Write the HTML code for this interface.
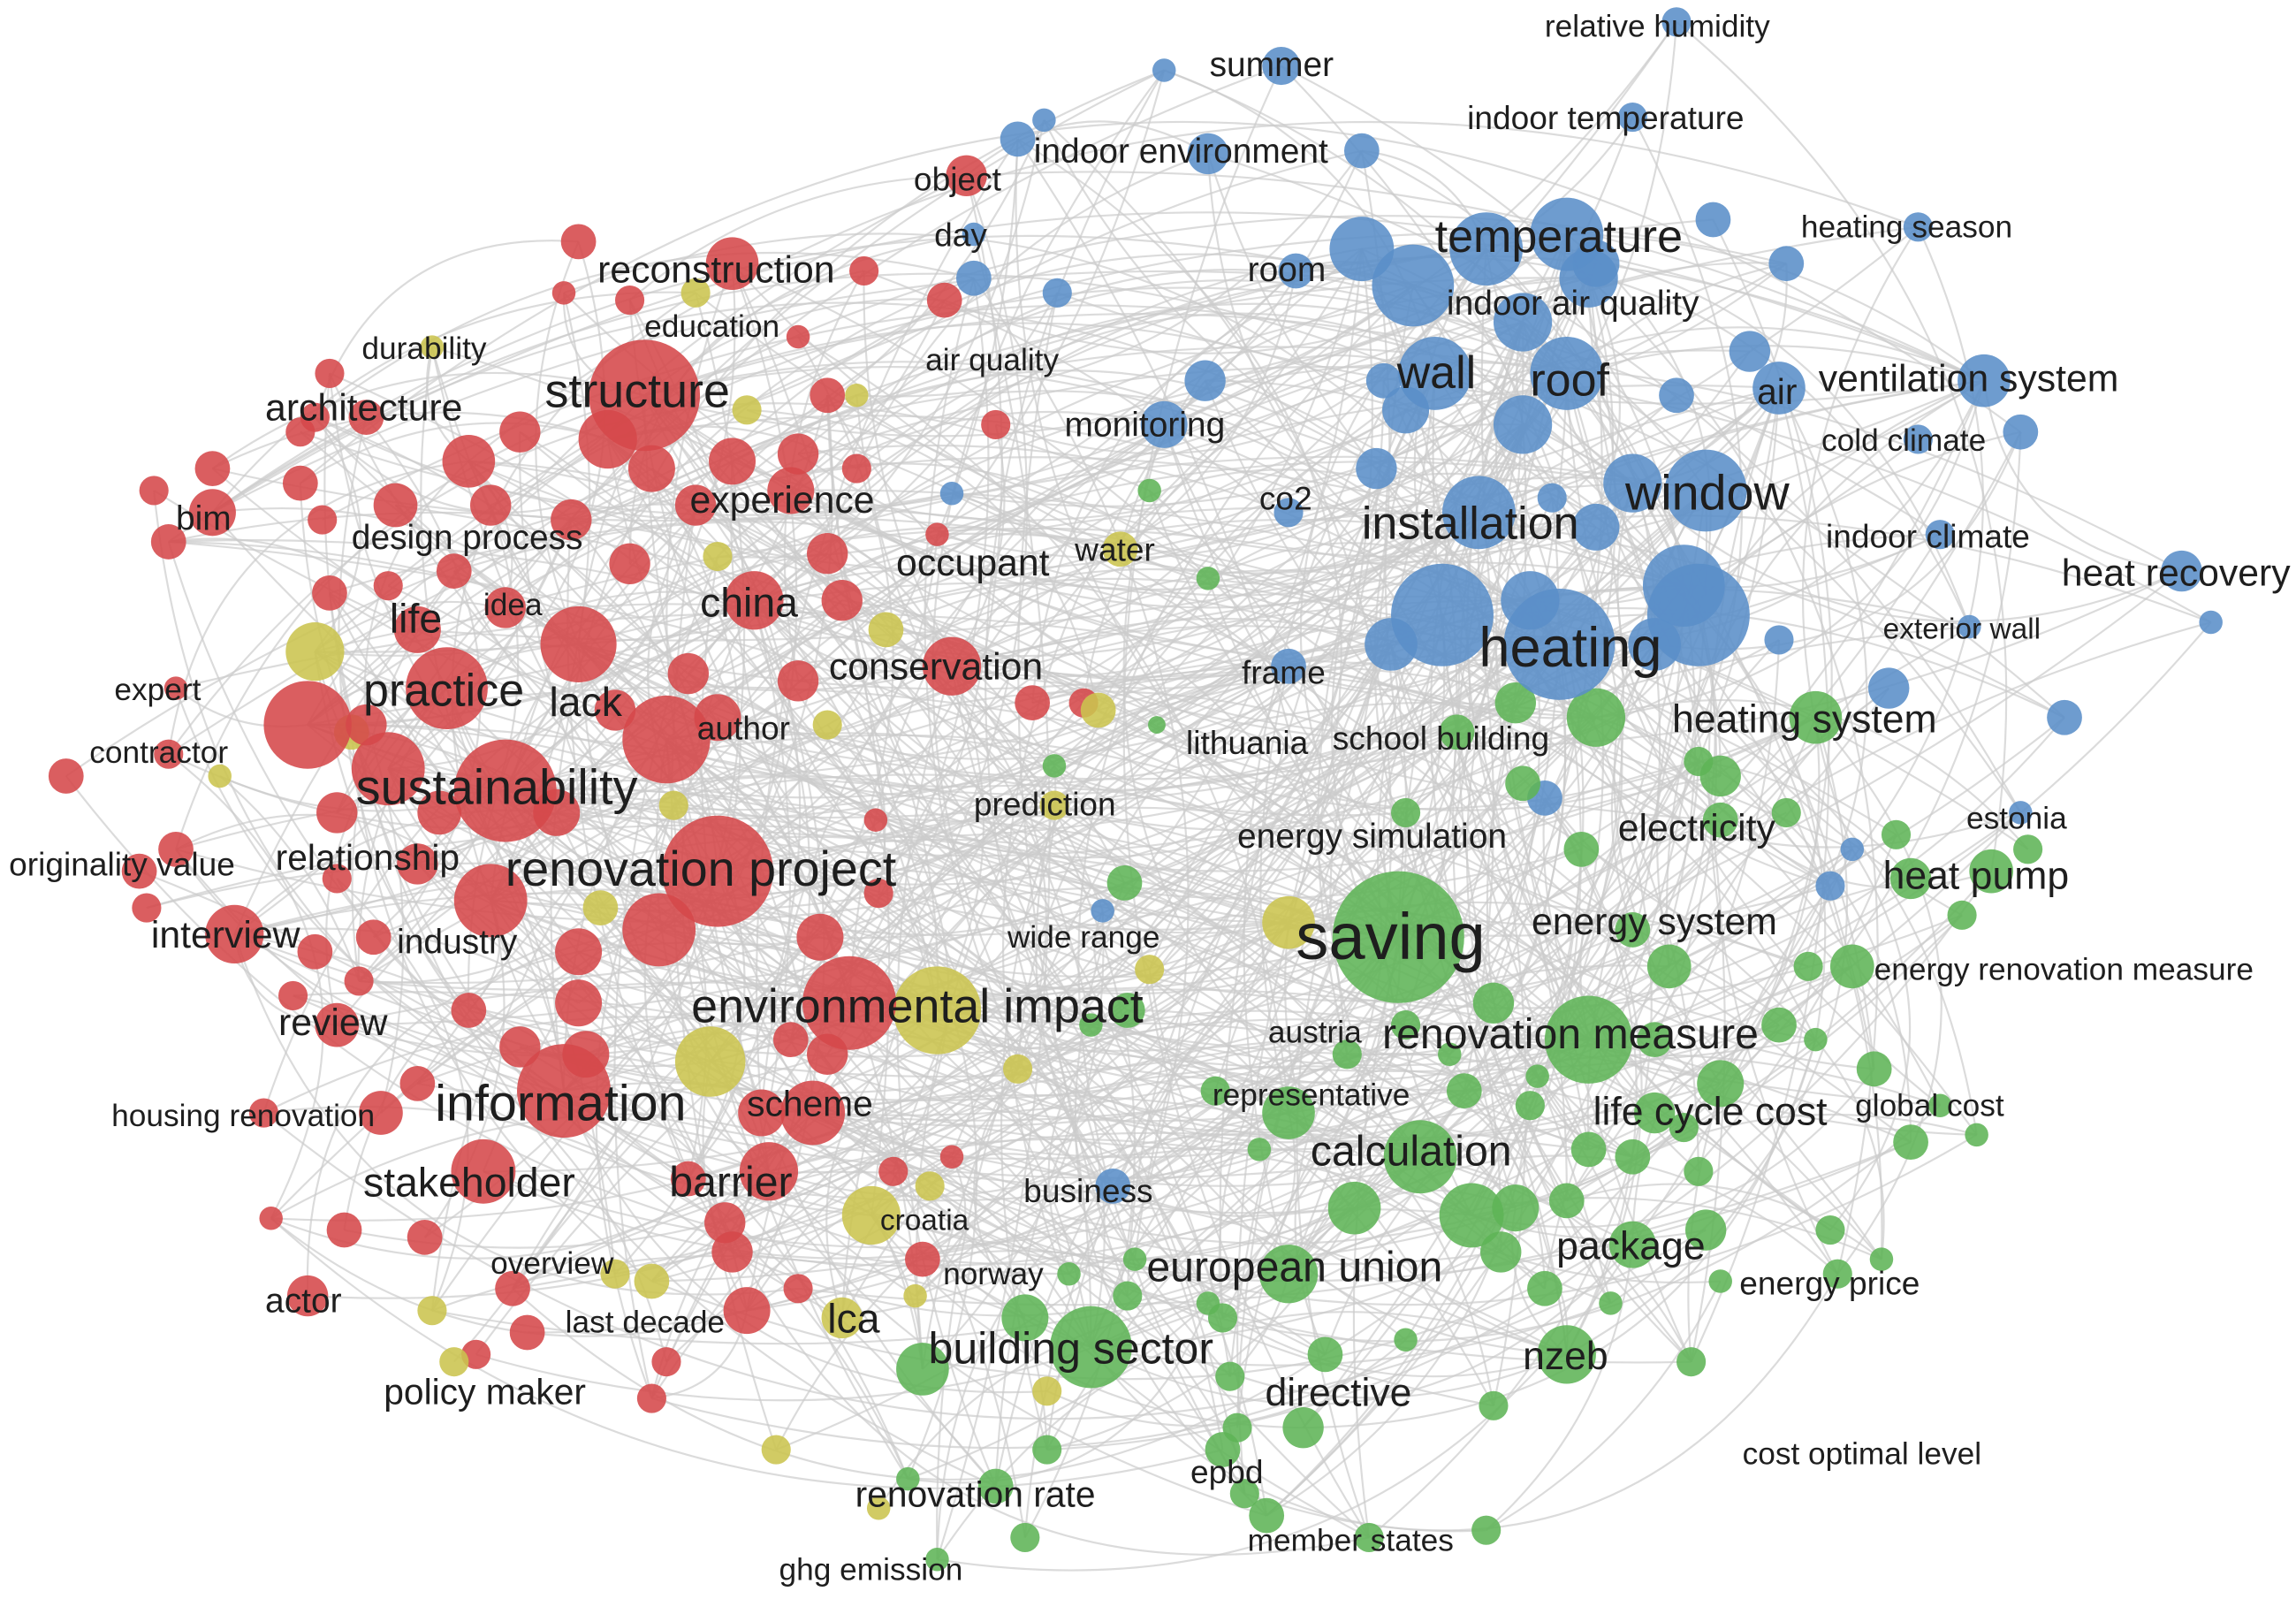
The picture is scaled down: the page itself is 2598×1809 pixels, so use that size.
<!DOCTYPE html>
<html><head><meta charset="utf-8"><style>
html,body{margin:0;padding:0;background:#fff;}
svg{display:block;}
text{font-family:"Liberation Sans",Arial,sans-serif;fill:#1e1e1e;}
</style></head><body>
<svg id="s" width="2598" height="1809" viewBox="0 0 1568 1092" xmlns="http://www.w3.org/2000/svg">
<rect width="1568" height="1092" fill="#fff"/>
<g id="edges" fill="none" stroke="#cccccc" stroke-width="1.3" stroke-opacity="0.7"></g>
<g id="nodes"></g>
<g id="labels">
<text x="1055" y="25" font-size="19">relative humidity</text>
<text x="826" y="52" font-size="21">summer</text>
<text x="1002" y="88" font-size="20">indoor temperature</text>
<text x="706" y="111" font-size="21">indoor environment</text>
<text x="624" y="130" font-size="20">object</text>
<text x="638" y="168" font-size="20">day</text>
<text x="1230" y="162" font-size="19">heating season</text>
<text x="980" y="172" font-size="28">temperature</text>
<text x="408" y="193" font-size="23">reconstruction</text>
<text x="852" y="192" font-size="21">room</text>
<text x="988" y="215" font-size="21">indoor air quality</text>
<text x="440" y="230" font-size="19">education</text>
<text x="247" y="245" font-size="19">durability</text>
<text x="632" y="253" font-size="19">air quality</text>
<text x="954" y="265" font-size="28">wall</text>
<text x="1045" y="270" font-size="28">roof</text>
<text x="1200" y="276" font-size="22">air</text>
<text x="1242" y="267" font-size="23">ventilation system</text>
<text x="372" y="278" font-size="29">structure</text>
<text x="181" y="287" font-size="23">architecture</text>
<text x="727" y="298" font-size="21">monitoring</text>
<text x="1244" y="308" font-size="19">cold climate</text>
<text x="1110" y="348" font-size="30">window</text>
<text x="471" y="350" font-size="23">experience</text>
<text x="120" y="362" font-size="21">bim</text>
<text x="860" y="348" font-size="20">co2</text>
<text x="240" y="375" font-size="21">design process</text>
<text x="930" y="368" font-size="28">installation</text>
<text x="1247" y="374" font-size="20">indoor climate</text>
<text x="612" y="393" font-size="23">occupant</text>
<text x="734" y="383" font-size="20">water</text>
<text x="1408" y="400" font-size="23">heat recovery</text>
<text x="330" y="420" font-size="19">idea</text>
<text x="478" y="421" font-size="25">china</text>
<text x="266" y="432" font-size="25">life</text>
<text x="1286" y="436" font-size="18">exterior wall</text>
<text x="1010" y="455" font-size="34">heating</text>
<text x="566" y="464" font-size="23">conservation</text>
<text x="848" y="467" font-size="20">frame</text>
<text x="78" y="478" font-size="19">expert</text>
<text x="248" y="482" font-size="28">practice</text>
<text x="375" y="489" font-size="25">lack</text>
<text x="476" y="505" font-size="20">author</text>
<text x="1142" y="500" font-size="24">heating system</text>
<text x="810" y="515" font-size="20">lithuania</text>
<text x="910" y="512" font-size="20">school building</text>
<text x="61" y="521" font-size="19">contractor</text>
<text x="243" y="549" font-size="30">sustainability</text>
<text x="665" y="557" font-size="20">prediction</text>
<text x="1343" y="566" font-size="19">estonia</text>
<text x="1105" y="574" font-size="23">electricity</text>
<text x="845" y="579" font-size="21">energy simulation</text>
<text x="188" y="594" font-size="22">relationship</text>
<text x="6" y="598" font-size="20">originality value</text>
<text x="345" y="605" font-size="30">renovation project</text>
<text x="1286" y="607" font-size="24">heat pump</text>
<text x="1046" y="638" font-size="23">energy system</text>
<text x="103" y="647" font-size="23">interview</text>
<text x="271" y="651" font-size="21">industry</text>
<text x="688" y="647" font-size="19">wide range</text>
<text x="885" y="655" font-size="40">saving</text>
<text x="1280" y="669" font-size="19">energy renovation measure</text>
<text x="472" y="698" font-size="29">environmental impact</text>
<text x="190" y="707" font-size="23">review</text>
<text x="866" y="712" font-size="19">austria</text>
<text x="944" y="716" font-size="26">renovation measure</text>
<text x="828" y="755" font-size="19">representative</text>
<text x="297" y="765" font-size="31">information</text>
<text x="510" y="762" font-size="22">scheme</text>
<text x="76" y="769" font-size="19">housing renovation</text>
<text x="1088" y="768" font-size="24">life cycle cost</text>
<text x="1267" y="762" font-size="19">global cost</text>
<text x="895" y="796" font-size="26">calculation</text>
<text x="248" y="817" font-size="25">stakeholder</text>
<text x="457" y="817" font-size="26">barrier</text>
<text x="699" y="821" font-size="20">business</text>
<text x="601" y="840" font-size="18">croatia</text>
<text x="1063" y="860" font-size="24">package</text>
<text x="335" y="870" font-size="19">overview</text>
<text x="783" y="875" font-size="26">european union</text>
<text x="644" y="877" font-size="19">norway</text>
<text x="1188" y="884" font-size="20">energy price</text>
<text x="181" y="896" font-size="21">actor</text>
<text x="386" y="910" font-size="19">last decade</text>
<text x="565" y="910" font-size="25">lca</text>
<text x="634" y="931" font-size="27">building sector</text>
<text x="1040" y="935" font-size="24">nzeb</text>
<text x="262" y="959" font-size="22">policy maker</text>
<text x="864" y="960" font-size="24">directive</text>
<text x="1190" y="1000" font-size="19">cost optimal level</text>
<text x="813" y="1013" font-size="20">epbd</text>
<text x="584" y="1029" font-size="22">renovation rate</text>
<text x="852" y="1059" font-size="19">member states</text>
<text x="532" y="1079" font-size="19">ghg emission</text>
</g>
</svg>
<script>
var R="440,270,38 490,595,38 345,540,35 580,685,32 385,745,32 305,470,28 395,440,26 455,505,30 210,495,30 265,525,25 450,635,25 335,615,25 555,760,22 525,800,20 330,800,22 230,700,15 160,638,20 300,555,15 270,345,15 320,315,18 355,295,14 415,300,20 500,180,18 395,165,12 660,120,14 650,455,20 515,410,20 575,410,14 565,378,14 540,335,16 545,310,14 545,465,14 500,315,16 475,345,14 445,320,16 490,490,16 470,460,14 420,485,14 380,555,16 395,650,16 395,685,16 400,720,16 355,715,14 320,690,12 260,760,15 285,740,12 290,845,12 285,590,14 230,555,14 250,495,14 285,430,16 345,415,14 310,390,12 225,405,12 145,350,16 115,370,12 105,335,10 145,320,12 205,330,12 220,355,10 250,285,12 215,285,10 225,255,10 205,295,10 45,530,12 115,515,10 120,470,8 95,595,12 100,620,10 120,580,12 230,600,10 255,640,12 215,650,12 245,670,10 200,680,10 180,760,10 185,832,8 210,885,14 235,840,12 360,910,12 325,925,10 455,930,10 445,955,10 510,895,16 545,880,10 495,835,14 500,855,14 470,805,12 565,720,14 540,710,12 585,320,10 590,185,10 385,200,8 430,205,10 545,230,8 565,270,12 645,205,12 680,290,10 640,365,8 705,480,12 740,480,10 630,860,12 610,800,10 650,790,8 598,560,8 520,760,16 560,640,16 600,610,10 335,345,14 390,355,14 430,385,14 265,400,10 350,880,12";
var Y="640,690,30 485,725,24 215,445,20 880,630,18 595,830,20 575,900,14 605,430,12 565,495,10 750,485,12 720,550,10 785,662,10 695,730,10 635,810,10 625,885,8 445,875,12 420,870,10 295,895,10 310,930,10 530,990,10 600,1030,8 715,950,10 765,375,12 510,280,10 475,200,10 585,270,8 295,237,8 410,620,12 490,380,10 240,500,12 150,530,8 460,550,10";
var B="1065,440,38 985,420,35 1160,420,35 1150,400,28 930,170,22 965,195,28 1015,170,25 1070,160,25 1085,190,20 1040,220,20 1090,180,16 980,255,25 1070,255,25 1040,290,20 1010,350,25 1165,335,28 1115,330,20 1090,360,16 1045,410,20 960,280,16 945,260,12 940,320,14 950,440,18 1215,265,18 1195,240,14 1145,270,12 1170,150,12 1220,180,12 1355,260,18 1380,295,12 1310,300,10 1325,365,10 1490,390,14 1510,425,8 1345,428,8 1290,470,14 1410,490,12 1215,437,10 1380,555,8 1265,580,8 1250,605,10 1055,545,12 875,45,13 795,48,8 713,82,8 695,95,12 825,105,14 930,103,12 1115,80,10 1145,15,10 1310,155,10 885,185,12 665,190,12 665,160,8 722,200,10 823,260,14 795,290,16 650,337,8 880,350,10 880,455,12 753,622,8 760,810,12 1060,340,10 1130,440,18";
var G="955,640,45 1085,710,30 970,790,25 1005,830,22 1035,825,16 925,825,18 880,870,20 880,760,18 1025,855,14 1115,850,16 1165,840,14 1090,490,20 1240,490,18 1175,530,14 1160,520,10 1175,560,12 1220,555,10 1080,580,12 1140,660,15 1115,635,12 1130,710,12 1175,740,16 1130,760,14 1085,785,12 1115,790,12 1150,770,10 1265,660,15 1235,660,10 1305,600,14 1360,595,15 1340,625,10 1295,570,10 1385,580,10 1280,730,12 1305,780,12 1250,840,10 1255,870,10 1285,860,8 1350,775,8 1325,755,8 1215,700,12 1240,710,8 1160,800,10 1175,875,8 1100,890,8 1055,880,12 1070,925,20 1155,930,10 1020,960,10 1015,1045,10 935,1050,10 865,1035,12 850,1020,10 835,990,12 845,975,10 890,975,14 905,925,12 960,915,8 840,940,10 835,900,10 825,890,8 770,885,10 745,920,28 700,900,16 630,935,18 715,990,10 680,1015,12 700,1050,10 640,1065,8 620,1010,8 730,870,8 775,860,8 830,745,10 860,785,8 920,720,10 1000,745,12 990,720,8 960,700,10 1020,685,14 1045,755,10 1050,735,8 1070,820,12 785,335,8 825,395,8 720,523,8 768,603,12 770,690,12 745,700,8 790,495,6 995,500,12 1040,535,12 960,555,10 1035,480,14";
var N=[];
function add(s,c){s.split(" ").forEach(function(t){var p=t.split(",").map(Number);N.push({x:p[0],y:p[1],r:p[2],c:c});});}
add(R,"#d5484a");add(Y,"#cbc44e");add(B,"#5a8ec8");add(G,"#5fb457");
var seed=7;function rnd(){seed=(seed*16807)%2147483647;return seed/2147483647;}
var e="";
var big=N.filter(function(n){return n.r>=18;});
for(var i=0;i<850;i++){
 var a=N[Math.floor(rnd()*N.length)];
 var b=(rnd()<0.6)?big[Math.floor(rnd()*big.length)]:N[Math.floor(rnd()*N.length)];
 if(a===b)continue;
 var mx=(a.x+b.x)/2,my=(a.y+b.y)/2,dx=b.x-a.x,dy=b.y-a.y;
 var k=(rnd()<0.5?-1:1)*(0.12+rnd()*0.3);
 var cx=mx-dy*k,cy=my+dx*k;
 e+='<path d="M'+a.x+' '+a.y+'Q'+cx.toFixed(1)+' '+cy.toFixed(1)+' '+b.x+' '+b.y+'"/>';
}
document.getElementById("edges").innerHTML=e;
var h="";
N.slice().sort(function(a,b){return a.r-b.r;}).forEach(function(n){
 h+='<circle cx="'+n.x+'" cy="'+n.y+'" r="'+n.r+'" fill="'+n.c+'" fill-opacity="0.88"/>';
});
document.getElementById("nodes").innerHTML=h;
var ts=document.querySelectorAll("#labels text");
for(var j=0;j<ts.length;j++){var f=parseFloat(ts[j].getAttribute("font-size"));ts[j].setAttribute("font-size",(f*1.12).toFixed(1));}
</script>
</body></html>
